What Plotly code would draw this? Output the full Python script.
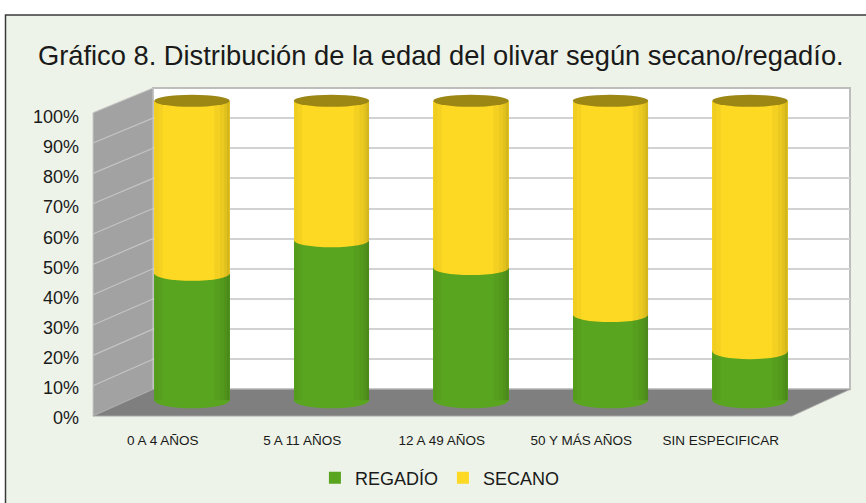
import plotly.graph_objects as go

# ---------------- data ----------------
categories = ["0 A 4 AÑOS", "5 A 11 AÑOS", "12 A 49 AÑOS", "50 Y MÁS AÑOS", "SIN ESPECIFICAR"]
regadio = [42.3, 53.4, 44.2, 28.6, 16.3]
secano = [57.7, 46.6, 55.8, 71.4, 83.7]
series_names = ["REGADÍO", "SECANO"]
y_tick_values = [0, 10, 20, 30, 40, 50, 60, 70, 80, 90, 100]
y_tick_labels = ["0%", "10%", "20%", "30%", "40%", "50%", "60%", "70%", "80%", "90%", "100%"]
title_text = "Gráfico 8. Distribución de la edad del olivar según secano/regadío."

# ---------------- styling / geometry ----------------
W, H = 866, 503
L, R, T, B = 93, 16, 88, 81
PW, PH = W - L - R, H - T - B
FONT = "Liberation Sans, Arial, sans-serif"
GREEN = "#5aa51f"
YELLOW = "#fdd923"
CAP = "#9c8614"
BG = "#edf3e8"


def px_x(x):
    return (x - L) / PW


def px_y(y):
    return (H - B - y) / PH


back_xdom = [px_x(153), 1.0]
back_ydom = [px_y(393), px_y(88)]
front_xdom = [0.0, px_x(790.5)]
front_ydom = [0.0, px_y(117)]
bar_range = [-4, 103]
bar_xdom = [px_x(122.25), px_x(819.75)]
# y3: 0 -> 404px, 100 -> 101px
ppu = (404 - 101) / 100.0
bar_ydom = [px_y(404 + 4 * ppu), px_y(101 - 3 * ppu)]

fig = go.Figure()

# invisible anchors for the back and front axes
fig.add_trace(go.Scatter(x=[0.5], y=[None], xaxis="x", yaxis="y", showlegend=False,
                         hoverinfo="skip", mode="markers"))
fig.add_trace(go.Scatter(x=categories, y=[None] * len(categories), xaxis="x2", yaxis="y2",
                         showlegend=False, hoverinfo="skip", mode="markers"))

colors = [GREEN, YELLOW]
for name, vals, col in zip(series_names, [regadio, secano], colors):
    fig.add_trace(go.Bar(x=categories, y=vals, name=name, marker=dict(color=col, line=dict(width=0)),
                         width=0.54, xaxis="x3", yaxis="y3"))

shapes = []
# outer frame
shapes.append(dict(type="rect", xref="paper", yref="paper", x0=px_x(5.5), x1=px_x(900),
                   y0=px_y(540), y1=px_y(14), fillcolor=BG, line=dict(color="#3a3a3a", width=1.5),
                   layer="below"))
# back wall
shapes.append(dict(type="rect", xref="x domain", yref="y domain", x0=0, x1=1, y0=0, y1=1,
                   fillcolor="white", line=dict(color="#bdbdbd", width=2), layer="below"))
# side wall
fx0, bx0 = px_x(93), px_x(153)
side_front = [px_y(420), px_y(113)]
side_path = "M {a},{b} L {c},{d} L {c},{e} L {a},{f} Z".format(
    a=fx0, b=side_front[0], c=bx0, d=back_ydom[0], e=back_ydom[1], f=side_front[1])
shapes.append(dict(type="path", xref="paper", yref="paper", path=side_path,
                   fillcolor="#a2a2a2", line=dict(color="#c8c8c8", width=1), layer="below"))
for t in y_tick_values[1:-1]:
    yf = side_front[0] + (side_front[1] - side_front[0]) * t / 100
    yb = back_ydom[0] + (back_ydom[1] - back_ydom[0]) * t / 100
    shapes.append(dict(type="line", xref="paper", yref="paper", x0=fx0, x1=bx0, y0=yf, y1=yb,
                       line=dict(color="#c4c4c4", width=1.2), layer="below"))
# floor
floor_path = "M {a},{b} L {c},{d} L {e},{d} L {f},{b} Z".format(
    a=fx0, b=side_front[0], c=bx0, d=back_ydom[0], e=1.0, f=px_x(792))
shapes.append(dict(type="path", xref="paper", yref="paper", path=floor_path,
                   fillcolor="#7f7f7f", line=dict(color="#a8a8a8", width=1), layer="below"))


def half_h(v):
    # ellipses look more open lower down (seen from above)
    return 2.7 - 0.7 * v / 100.0


# cylinder ellipses (bottom, boundary, top) and side shading derived from the data
hw = 0.27
left_strips = [(0.00, 0.03, 0.05), (0.03, 0.06, 0.03)]
right_strips = [(0.16, 0.20, 0.04), (0.20, 0.23, 0.07), (0.23, 0.25, 0.11), (0.25, 0.27, 0.16)]
for i, (rg, sc) in enumerate(zip(regadio, secano)):
    top = rg + sc
    h0, h1, h2 = half_h(0), half_h(rg), half_h(top)
    shapes.append(dict(type="circle", xref="x3", yref="y3", x0=i - hw, x1=i + hw, y0=-h0, y1=h0,
                       fillcolor=GREEN, line=dict(width=0), layer="below"))
    shapes.append(dict(type="circle", xref="x3", yref="y3", x0=i - hw, x1=i + hw,
                       y0=rg - h1, y1=rg + h1, fillcolor=YELLOW, line=dict(width=0), layer="above"))
    for a, b, op in left_strips:
        shapes.append(dict(type="rect", xref="x3", yref="y3", x0=i - hw + a, x1=i - hw + b,
                           y0=0, y1=top, fillcolor="rgba(0,0,0,%.2f)" % op, line=dict(width=0),
                           layer="above"))
    for a, b, op in right_strips:
        shapes.append(dict(type="rect", xref="x3", yref="y3", x0=i + a, x1=i + b,
                           y0=0, y1=top, fillcolor="rgba(0,0,0,%.2f)" % op, line=dict(width=0),
                           layer="above"))
    shapes.append(dict(type="circle", xref="x3", yref="y3", x0=i - hw, x1=i + hw,
                       y0=top - h2, y1=top + h2, fillcolor=CAP, line=dict(width=0), layer="above"))

fig.update_layout(
    width=W, height=H,
    margin=dict(l=L, r=R, t=T, b=B),
    paper_bgcolor="white",
    plot_bgcolor="rgba(0,0,0,0)",
    font=dict(family=FONT, color="#1a1a1a"),
    title=dict(text=title_text, x=0.509, xanchor="center", y=1 - 55 / H, yanchor="middle",
               font=dict(size=27.3, family=FONT, color="#1a1a1a")),
    barmode="stack",
    showlegend=True,
    legend=dict(orientation="h", xref="container", yref="container", x=0.508, y=1 - 478 / H,
                xanchor="center", yanchor="middle", font=dict(size=18), bgcolor="rgba(0,0,0,0)",
                traceorder="normal"),
    shapes=shapes,
    xaxis=dict(domain=back_xdom, anchor="y", range=[0, 1], showgrid=False, zeroline=False,
               showticklabels=False, showline=False, fixedrange=True),
    yaxis=dict(domain=back_ydom, anchor="x", range=[0, 100], tickvals=y_tick_values, showgrid=True,
               gridcolor="#d2d2d2", gridwidth=2, zeroline=False, showticklabels=False,
               showline=False, fixedrange=True),
    xaxis2=dict(domain=front_xdom, anchor="y2", type="category", range=[-0.5, len(categories) - 0.5],
                showgrid=False, zeroline=False, showline=False, ticks="",
                tickfont=dict(size=13.5, color="#1a1a1a"), ticklabelstandoff=12, fixedrange=True),
    yaxis2=dict(domain=front_ydom, anchor="x2", range=[0, 100], tickvals=y_tick_values,
                ticktext=y_tick_labels, showgrid=False, zeroline=False, showline=False, ticks="",
                tickfont=dict(size=18, color="#1a1a1a"), ticklabelstandoff=13, fixedrange=True),
    xaxis3=dict(domain=bar_xdom, anchor="y3", type="category", range=[-0.5, len(categories) - 0.5],
                visible=False, fixedrange=True),
    yaxis3=dict(domain=bar_ydom, anchor="x3", range=bar_range, visible=False, fixedrange=True),
)

fig.write_html("out.html", config={"displayModeBar": False},
               post_script="document.body.style.margin='0px';")
